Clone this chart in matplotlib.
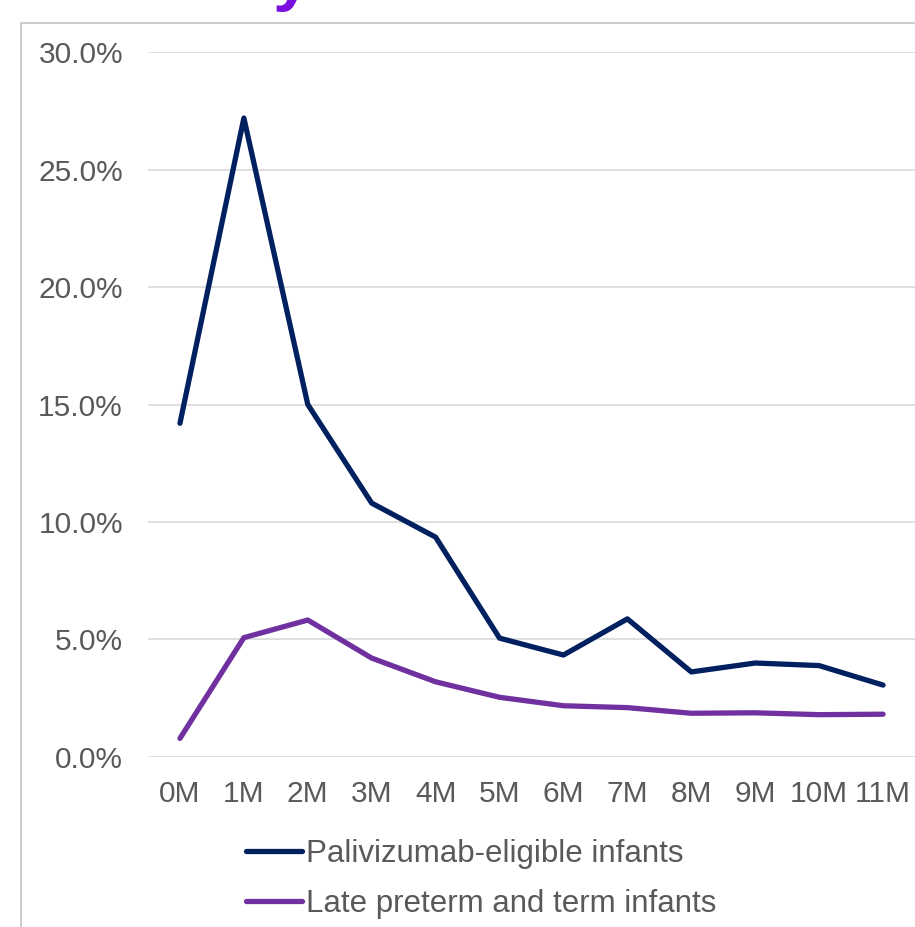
import matplotlib
matplotlib.use("Agg")
import matplotlib.pyplot as plt
from matplotlib.lines import Line2D
from matplotlib.patches import Rectangle

plt.rcParams['font.family'] = ['Liberation Sans', 'DejaVu Sans']

ages = ["0M", "1M", "2M", "3M", "4M", "5M", "6M", "7M", "8M", "9M", "10M", "11M"]
palivizumab = [14.2, 27.2, 15.0, 10.8, 9.35, 5.05, 4.33, 5.87, 3.61, 3.99, 3.88, 3.05]
late_preterm = [0.78, 5.07, 5.82, 4.2, 3.19, 2.53, 2.17, 2.09, 1.85, 1.87, 1.79, 1.81]
yticks = [0, 5, 10, 15, 20, 25, 30]

W, H = 915, 927
fig = plt.figure(figsize=(W / 100, H / 100), dpi=100)

# plot area in pixel terms
left, right = 148, 915
top, bottom = 52.3, 756.7
ax = fig.add_axes([left / W, 1 - bottom / H, (right - left) / W, (bottom - top) / H])

x = list(range(len(ages)))
ax.plot(x, palivizumab, color="#002060", lw=3.8, solid_capstyle="round",
        solid_joinstyle="round", zorder=3)
ax.plot(x, late_preterm, color="#7030A0", lw=3.8, solid_capstyle="round",
        solid_joinstyle="round", zorder=3)

ax.set_xlim(-0.5, len(ages) - 0.5)
ax.set_ylim(0, 30)
ax.set_yticks(yticks)
ax.set_yticklabels([f"{v:.1f}%" for v in yticks])
ax.set_xticks(x)
ax.set_xticklabels(ages)
ax.yaxis.grid(True, color="#D9D9D9", lw=1.2)
ax.set_axisbelow(True)
for s in ax.spines.values():
    s.set_visible(False)
ax.tick_params(axis="both", length=0, labelsize=21.5, labelcolor="#595959")
ax.tick_params(axis="y", pad=18)
ax.tick_params(axis="x", pad=17)
ax.set_clip_on(False)

# outer chart border (only left and top edges fall inside the image)
fig.patches.append(Rectangle((21 / W, -0.1), 2.0, 1.1 - 23 / H, transform=fig.transFigure,
                             fill=False, edgecolor="#BFBFBF", lw=1.1))

# descender of the slide title above the chart
fig.text(272 / W, 1 + 2 / H, "y", fontsize=50, fontweight="bold", color="#7B10E0",
         va="baseline", ha="left")

handles = [Line2D([], [], color="#002060", lw=3.8, solid_capstyle="round"),
           Line2D([], [], color="#7030A0", lw=3.8, solid_capstyle="round")]
fig.legend(handles, ["Palivizumab-eligible infants", "Late preterm and term infants"],
           loc="upper left", bbox_to_anchor=(246 / W, 1 - 839 / H), frameon=False,
           fontsize=22.5, labelcolor="#595959", handlelength=1.78, handletextpad=0.14,
           labelspacing=0.64, borderpad=0, borderaxespad=0)

fig.savefig("out.png", dpi=100, facecolor="white")
